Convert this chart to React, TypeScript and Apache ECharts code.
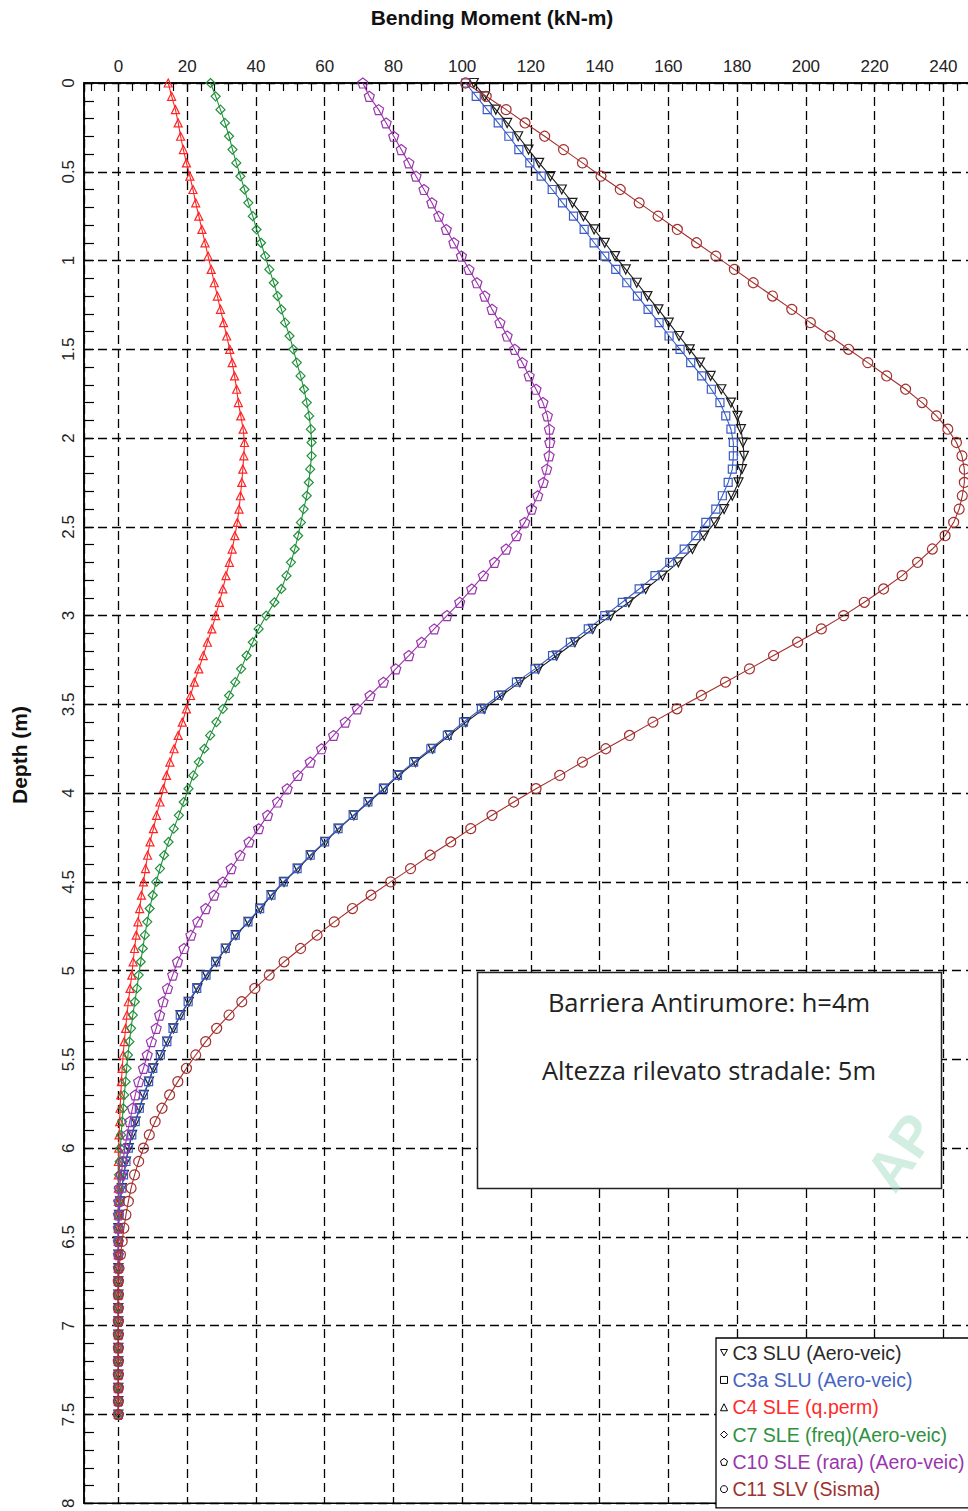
import React, { useEffect, useRef } from "react";
import * as echarts from "echarts";

// Depth (m) of each computed point
const depth = [0,0.075,0.15,0.225,0.3,0.375,0.45,0.525,0.6,0.675,0.75,0.825,0.9,0.975,1.05,1.125,1.2,1.275,1.35,1.425,1.5,1.575,1.65,1.725,1.8,1.875,1.95,2.025,2.1,2.175,2.25,2.325,2.4,2.475,2.55,2.625,2.7,2.775,2.85,2.925,3,3.075,3.15,3.225,3.3,3.375,3.45,3.525,3.6,3.675,3.75,3.825,3.9,3.975,4.05,4.125,4.2,4.275,4.35,4.425,4.5,4.575,4.65,4.725,4.8,4.875,4.95,5.025,5.1,5.175,5.25,5.325,5.4,5.475,5.55,5.625,5.7,5.775,5.85,5.925,6,6.075,6.15,6.225,6.3,6.375,6.45,6.525,6.6,6.675,6.75,6.825,6.9,6.975,7.05,7.125,7.2,7.275,7.35,7.425,7.5];

// Bending moment (kN-m) per load combination
const c3 = [103.4,106.6,109.8,113.1,116.3,119.3,122.4,125.7,129,132.1,
135.3,138.4,141.5,144.5,147.6,150.8,153.9,157.1,160.1,163.1,
166.2,169.2,172.3,175.4,178.2,180.1,181.1,181.7,182,181.4,
180.4,178.6,176.2,173.6,170.4,167,162.9,158.3,153.4,148.5,
143.2,138,132.8,127.5,122.2,116.8,111.5,106.4,101.1,96.3,
91.4,86.4,81.6,77.4,72.9,68.5,64.1,60.2,56,52.2,
48.2,44.6,41.3,37.9,34.2,31.3,28.5,25.7,23,20.5,
18.1,16,14.2,12.3,10.2,8.9,7.4,6.2,5,4,
3,2.2,1.6,1,0.5,0.2,0,0,0,0,
0,0,0,0,0,0,0,0,0,0,0];

const c3a = [101,104.1,107.3,110.5,113.6,116.5,119.7,123,126.2,129.2,
132.4,135.5,138.4,141.5,144.7,147.9,151,154.1,157.3,160.2,
163.4,166.5,169.7,172.5,175,176.7,178.2,178.9,178.9,178.6,
177.4,175.7,173.8,170.9,168,164.6,160.4,156.1,151.5,146.6,
141.5,136.7,131.5,126.3,121.2,115.8,110.6,105.6,100.4,95.7,
90.9,85.9,81.2,77.1,72.6,68.3,63.9,60,55.8,52,
48,44.4,41.1,37.7,34,31.1,28.3,25.5,22.8,20.3,
18,15.9,14.1,12.2,10,8.8,7.3,6.1,4.9,3.9,
2.9,2.2,1.5,1,0.5,0.2,0,0,0,0,
0,0,0,0,0,0,0,0,0,0,0];

const c4 = [14.5,15.5,16.6,17.4,18.1,18.9,19.8,20.8,21.7,22.5,
23.4,24.3,25.2,26.1,27,27.9,28.8,29.7,30.6,31.5,
32.4,33.1,33.8,34.4,34.9,35.6,36.3,36.7,36.5,36.2,
35.9,35.5,35.1,34.6,33.9,33.1,32.3,31.3,30.4,29.4,
28.3,27.2,25.9,24.7,23.4,22.1,21,19.8,18.6,17.4,
16.2,15,14,13.1,12.1,11.1,10.2,9.2,8.5,7.9,
7.3,6.7,6.2,5.7,5.2,4.7,4.3,3.9,3.4,2.9,
2.5,2.1,1.7,1.4,1.1,0.9,0.7,0.5,0.4,0.2,
0.1,0,0,0,0,0,0,0,0,0,
0,0,0,0,0,0,0,0,0,0,0];

const c7 = [26.8,28.3,29.7,31,32.2,33.2,34.3,35.5,36.7,37.8,
39.1,40.2,41.5,42.7,43.9,45.2,46.3,47.4,48.5,49.8,
50.9,51.9,53,54,54.8,55.5,56,56.2,56.2,55.8,
55.4,54.8,53.9,53.1,52.3,51.3,50.2,48.9,47.4,45.4,
43,40.8,39.1,37.3,35.7,34,32.2,30.4,28.5,26.7,
25,23.4,21.8,20.4,19,17.6,16.1,14.6,13.3,12.1,
11,10,9.1,8.4,7.7,7.1,6.5,5.9,5.4,4.8,
4.2,3.7,3.2,2.8,2.4,2.1,1.7,1.4,1.1,0.8,
0.6,0.4,0.2,0.1,0,0,0,0,0,0,
0,0,0,0,0,0,0,0,0,0,0];

const c10 = [71.1,73,75.7,77.9,80.1,82.3,84.5,86.6,88.9,91.2,
93.2,95.4,97.6,99.8,102,104.3,106.6,108.7,111,113.1,
115.3,117.5,119.5,121.5,123.5,124.8,125.4,125.5,125.3,124.6,
123.6,122,120.2,118.2,115.8,112.8,109.4,106.2,102.8,99.3,
95.6,91.9,88.2,84.5,80.7,77.1,73.2,69.5,66,62.6,
59.1,55.8,52.2,49.1,46.3,43.4,40.8,38,35.4,32.8,
30.4,27.8,25.4,23.1,21.1,19.1,17.2,15.8,14.3,13,
12,11,9.6,8.4,7.3,5.9,4.9,4.1,3.3,2.5,
1.9,1.3,0.8,0.3,0.1,0,0,0,0,0,
0,0,0,0,0,0,0,0,0,0,0];

const c11 = [101,107,112.8,118.3,124,129.5,135,140.4,146,151.5,
157,162.6,168.2,173.8,179.2,184.7,190.3,195.9,201.3,207,
212.4,218,223.5,229,233.8,238,241.3,243.8,245.4,246.1,
246.1,245.5,244.6,243,240.5,236.8,232.5,228,222.6,217,
211,204.5,197.6,190.6,183.6,176.6,169.6,162.5,155.5,148.7,
141.8,135,128.4,121.5,115,108.7,102.5,96.7,90.7,85,
79.2,73.5,68.1,62.8,57.8,53,48.2,43.9,39.7,35.9,
32.2,28.6,25.4,22.5,19.8,17.3,14.9,12.7,10.7,9,
7.3,5.9,4.7,3.7,2.9,2.2,1.6,1.1,0.6,0.2,
0,0,0,0,0,0,0,0,0,0,0];

const seriesNames = [
  "C3 SLU (Aero-veic)",
  "C3a SLU (Aero-veic)",
  "C4 SLE (q.perm)",
  "C7 SLE (freq)(Aero-veic)",
  "C10 SLE (rara) (Aero-veic)",
  "C11 SLV (Sisma)",
];
const seriesValues = [c3, c3a, c4, c7, c10, c11];
const seriesColors = ["#1c1c1c", "#3a5bc7", "#ff2424", "#20903a", "#9a35ad", "#a4302e"];
const legendTextColors = ["#2a2a2a", "#4563c2", "#ff2a2a", "#2e9140", "#9a35ad", "#9e3230"];

const PENT = "path://M5,0L10,3.7L8.1,10L1.9,10L0,3.7Z";
const TRI_DOWN = "path://M0,0L10,0L5,9Z";
const seriesSymbols = ["triangle", "rect", "triangle", "diamond", PENT, "circle"];
const seriesSymbolRotate = [180, 0, 0, 0, 0, 0];
const seriesSymbolSize = [9, 8, 8, 9, 10, 10];
const legendIcons = [TRI_DOWN, "rect", "triangle", "diamond", PENT, "circle"];

const xTitle = "Bending Moment (kN-m)";
const yTitle = "Depth (m)";
const noteLines = ["Barriera Antirumore: h=4m", "Altezza rilevato stradale: 5m"];
const watermark = "AP";

export default function App() {
  const ref = useRef<HTMLDivElement>(null);
  useEffect(() => {
    if (!ref.current) return;
    const chart = echarts.init(ref.current, undefined, { renderer: "svg" });
    const font = '"Liberation Sans", Arial, sans-serif';
    const GRID_LEFT = 84, GRID_TOP = 83, GRID_H = 1423;
    const XMIN = -10, XMAX = 260;
    const GRID_W = (XMAX - XMIN) * 3.4375;

    const series = seriesNames.map((name, k) => ({
      name,
      type: "line",
      data: seriesValues[k].map((v, i) => [v, depth[i]]),
      symbol: seriesSymbols[k],
      symbolRotate: seriesSymbolRotate[k],
      symbolSize: seriesSymbolSize[k],
      showSymbol: true,
      showAllSymbol: true,
      color: seriesColors[k],
      lineStyle: { color: seriesColors[k], width: 1.1 },
      itemStyle: { color: "rgba(255,255,255,0)", borderColor: seriesColors[k], borderWidth: 1.2 },
      emphasis: { disabled: true },
      z: 3 + k,
    }));

    const option: any = {
      animation: false,
      backgroundColor: "#ffffff",
      grid: {
        left: GRID_LEFT, top: GRID_TOP, width: GRID_W, height: GRID_H,
        show: true, borderColor: "#000", borderWidth: 1.5, backgroundColor: "rgba(0,0,0,0)",
      },
      xAxis: {
        type: "value", position: "top", min: XMIN, max: XMAX, splitNumber: 13,
        axisLine: { show: true, onZero: false, lineStyle: { color: "#000", width: 1.5 } },
        axisTick: { show: true, inside: true, length: 8, lineStyle: { color: "#000", width: 1.2 } },
        minorTick: { show: true, splitNumber: 5, length: 8, lineStyle: { color: "#000", width: 1.2 } },
        axisLabel: { showMinLabel: false, showMaxLabel: false, margin: 8, color: "#222", fontSize: 17, fontFamily: font },
        splitLine: { show: true, lineStyle: { type: [9, 5], color: "#000", width: 1.3 } },
      },
      yAxis: {
        type: "value", inverse: true, min: 0, max: 8, interval: 0.5,
        axisLine: { show: true, onZero: false, lineStyle: { color: "#000", width: 1.5 } },
        axisTick: { show: true, inside: true, length: 10, lineStyle: { color: "#000", width: 1.2 } },
        minorTick: { show: true, splitNumber: 5, length: 10, lineStyle: { color: "#000", width: 1.2 } },
        axisLabel: { rotate: 90, margin: 7, color: "#222", fontSize: 17, fontFamily: font },
        splitLine: { show: true, lineStyle: { type: [9, 5], color: "#000", width: 1.3 } },
      },
      legend: {
        show: true,
        orient: "vertical",
        left: 716,
        top: 1338,
        padding: [1, 14, 5, 4],
        itemGap: 0,
        itemWidth: 7,
        itemHeight: 7,
        selectedMode: false,
        backgroundColor: "#fff",
        borderColor: "#000",
        borderWidth: 1.3,
        borderRadius: 0,
        textStyle: { fontSize: 19.5, fontFamily: font, lineHeight: 27.3, padding: [0, 0, 0, 0] },
        data: seriesNames.map((name, k) => ({
          name,
          icon: legendIcons[k],
          itemStyle: { color: "rgba(255,255,255,0)", borderColor: "#000", borderWidth: 1 },
          textStyle: { color: legendTextColors[k] },
        })),
      },
      graphic: [
        {
          type: "text", x: 492, y: 17, z: 100,
          style: { text: xTitle, font: 'bold 21px "Liberation Sans", Arial, sans-serif', fill: "#111", align: "center", verticalAlign: "middle" },
        },
        {
          type: "text", x: 19, y: 755, rotation: Math.PI / 2, z: 100,
          style: { text: yTitle, font: 'bold 21px "Liberation Sans", Arial, sans-serif', fill: "#111", align: "center", verticalAlign: "middle" },
        },
        {
          type: "rect", z: 95,
          shape: { x: 477.5, y: 972.5, width: 464, height: 216 },
          style: { fill: "#fff", stroke: "#222", lineWidth: 1.5 },
        },
        {
          type: "text", x: 902, y: 1200, rotation: 0.97, z: 98,
          style: { text: watermark, font: 'bold 56px "Liberation Sans", Arial, sans-serif', fill: "rgba(140,212,178,0.4)", align: "left", verticalAlign: "bottom" },
        },
        {
          type: "text", x: 709, y: 1002, z: 96,
          style: { text: noteLines[0], font: '25.5px "Open Sans", "Noto Sans", sans-serif', fill: "#222", align: "center", verticalAlign: "middle" },
        },
        {
          type: "text", x: 709, y: 1070, z: 96,
          style: { text: noteLines[1], font: '25.5px "Open Sans", "Noto Sans", sans-serif', fill: "#222", align: "center", verticalAlign: "middle" },
        },
      ],
      series,
    };
    chart.setOption(option);
    return () => chart.dispose();
  }, []);

  return (
    <div style={{ position: "absolute", left: 0, top: 0, width: 968, height: 1511, overflow: "hidden", background: "#fff" }}>
      <div ref={ref} style={{ width: 1060, height: 1511 }} />
    </div>
  );
}
